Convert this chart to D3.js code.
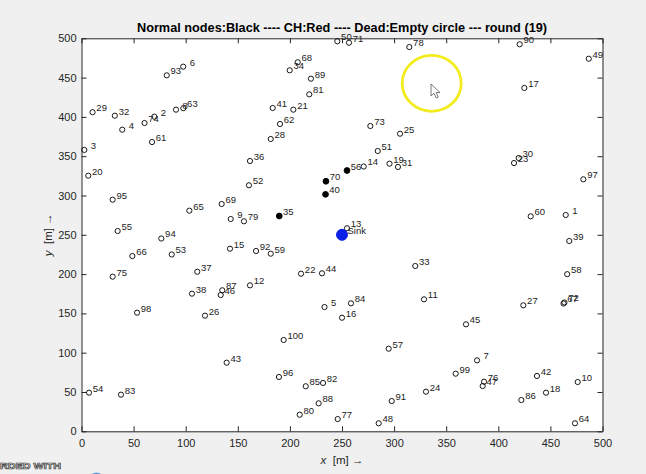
<!DOCTYPE html>
<html><head><meta charset="utf-8">
<script src="https://cdn.jsdelivr.net/npm/d3@7/dist/d3.min.js"></script>
<style>
html,body{margin:0;padding:0;background:#f0f0f0;}
svg{display:block;font-family:"Liberation Sans",Arial,Helvetica,sans-serif;}
</style></head>
<body>
<svg id="chart" width="646" height="474"></svg>
<script>
// ---- data ----
const nodeIds = [1,2,3,4,5,6,7,8,9,10,11,12,13,14,15,16,17,18,19,20,21,22,23,24,25,26,27,28,29,30,31,32,33,34,35,36,37,38,39,40,41,42,43,44,45,46,47,48,49,50,51,52,53,54,55,56,57,58,59,60,61,62,63,64,65,66,67,68,69,70,71,72,73,74,75,76,77,78,79,80,81,82,83,84,85,86,87,88,89,90,91,92,93,94,95,96,97,98,99,100];
const nodeX = [464.7,69.9,2.7,39.1,233.2,97.6,379.6,90.7,143.2,476.2,328.7,161.7,254.8,270.8,142.5,250,425,445.8,295.6,6.5,203.3,210.7,415.1,330.6,305.7,118.5,424,181.6,10.6,419.6,303.7,32,320.3,199.8,189.8,161.7,111.1,106,468.1,234.2,183.5,437.1,139.3,230.8,369,133.6,385,285.2,486.8,245.5,284.3,160.7,86.6,7.2,34.7,254.8,294.8,466.1,181.6,431.1,67.7,190.5,97.7,473.6,103.5,48.8,462.6,207.5,134.5,234.6,256.7,463.5,277.2,60.5,29.9,386.3,245.9,314.6,155.9,209.4,218.6,231.8,37.9,258.6,215.2,422.1,135.1,227.6,220.2,420.5,297.7,167.5,81.8,76.6,29.9,189.5,481.6,53.3,359.1,194];
const nodeY = [275.2,400.3,358,383.7,158.1,463.9,90.3,409.2,270.1,62.7,167.9,185.7,258.3,336.9,232.3,144.5,436.8,49.1,340.5,325.2,409.2,200.5,341.3,50.4,378.6,147.1,160.3,371.9,406,347.7,336.3,401.5,210.3,459.3,273.9,343.9,203,175.1,242.1,301.5,411.3,70.4,87.3,201,136.1,173.4,57.6,10.2,474,496.2,356.6,313,225,49.1,254.8,331.8,105.1,199.9,226,273.5,368,391,411.1,10.2,280.7,223,162.6,469.5,289.2,318.1,494.4,163.9,388.4,392.2,196.7,63.1,15.6,488.9,267.2,21.1,428.7,61.5,46.6,162.8,57.3,39.8,179.4,35.6,448.6,492.4,38.5,229.4,452.9,245.3,294.7,69.1,320.6,150.9,73.3,116.2];
const aliveIds = [35,40,56,70];          // normal nodes (black)
const sinkX = [250], sinkY = [250];
const xTicks = [0,50,100,150,200,250,300,350,400,450,500];
const yTicks = [0,50,100,150,200,250,300,350,400,450,500];
const titleText = "Normal nodes:Black ---- CH:Red ---- Dead:Empty circle --- round (19)";

// ---- layout ----
const svg = d3.select("#chart");
const L = 81.5, R = 602.5, T = 38.3, B = 431.3;
const x = d3.scaleLinear().domain([0,500]).range([L,R]);
const y = d3.scaleLinear().domain([0,500]).range([B,T]);
const axisColor = "#262626";

svg.append("rect").attr("width",646).attr("height",474).attr("fill","#f0f0f0");
svg.append("rect").attr("x",L).attr("y",T).attr("width",R-L).attr("height",B-T).attr("fill","#fff");

function styleAxis(g){
  g.selectAll("path,line").attr("stroke",axisColor).attr("stroke-width",1);
  g.selectAll("text").attr("fill",axisColor).attr("font-size",11)
   .attr("font-family","'Liberation Sans',Arial,sans-serif");
}
svg.append("g").attr("transform",`translate(0,${B})`)
  .call(d3.axisBottom(x).tickValues(xTicks).tickSizeInner(-5).tickSizeOuter(0).tickPadding(8))
  .call(styleAxis);
svg.append("g").attr("transform",`translate(${L},0)`)
  .call(d3.axisLeft(y).tickValues(yTicks).tickSizeInner(-5).tickSizeOuter(0).tickPadding(5))
  .call(styleAxis);
svg.append("g").attr("transform",`translate(0,${T})`)
  .call(d3.axisTop(x).tickValues(xTicks).tickFormat("").tickSizeInner(-5).tickSizeOuter(0))
  .call(styleAxis);
svg.append("g").attr("transform",`translate(${R},0)`)
  .call(d3.axisRight(y).tickValues(yTicks).tickFormat("").tickSizeInner(-5).tickSizeOuter(0))
  .call(styleAxis);

// ---- nodes ----
const nodes = nodeIds.map((id,i)=>({id, x:nodeX[i], y:nodeY[i], alive: aliveIds.includes(id)}));
const ng = svg.append("g");
ng.selectAll("circle.node").data(nodes).join("circle")
  .attr("class","node")
  .attr("cx",d=>x(d.x)).attr("cy",d=>y(d.y))
  .attr("r",d=>d.alive?2.9:2.6)
  .attr("fill",d=>d.alive?"#000":"none")
  .attr("stroke","#000").attr("stroke-width",0.9);
ng.selectAll("text.lbl").data(nodes).join("text")
  .attr("class","lbl")
  .attr("x",d=>x(d.x) + (d.id<10?6.5:3.8))
  .attr("y",d=>y(d.y) - 1)
  .attr("font-size",9.5).attr("fill","#222")
  .text(d=>d.id);

// sink
svg.selectAll("circle.sink").data(sinkX.map((v,i)=>({x:v,y:sinkY[i]}))).join("circle")
  .attr("class","sink").attr("cx",d=>x(d.x)).attr("cy",d=>y(d.y)).attr("r",5.5)
  .attr("fill","#0a1fe8").attr("stroke","#0a1fe8");
svg.append("text").attr("x",x(sinkX[0])+5.5).attr("y",y(sinkY[0])-1)
  .attr("font-size",9.5).attr("fill","#222").text("Sink");

// title
svg.append("text").attr("x",(L+R)/2).attr("y",31.5).attr("text-anchor","middle")
  .attr("font-size",12).attr("font-weight","bold").attr("fill","#000")
  .attr("textLength",410).attr("lengthAdjust","spacingAndGlyphs")
  .text(titleText);

// axis labels
const xl = svg.append("text").attr("x",(L+R)/2).attr("y",464).attr("text-anchor","middle")
  .attr("font-size",11.5).attr("fill",axisColor);
xl.append("tspan").attr("font-style","italic").text("x");
xl.append("tspan").text("\u00a0\u00a0[m] \u2192");
const yl = svg.append("text").attr("transform",`translate(51.5,${(T+B)/2}) rotate(-90)`)
  .attr("text-anchor","middle").attr("font-size",11.5).attr("fill",axisColor);
yl.append("tspan").attr("font-style","italic").text("y");
yl.append("tspan").text("\u00a0\u00a0[m] \u2192");

// screen-recording overlay: highlight ring + cursor
svg.append("ellipse").attr("cx",431.7).attr("cy",83.3).attr("rx",29.5).attr("ry",28)
  .attr("fill","none").attr("stroke","#f3ec1c").attr("stroke-width",2.8);
svg.append("path").attr("transform","translate(431,84)")
  .attr("d","M0,0 L0,12 L3,9.3 L5.2,14 L7.2,13.1 L5.1,8.5 L9,8.5 Z")
  .attr("fill","#fff").attr("stroke","#555").attr("stroke-width",0.8);

// watermark fragment
svg.append("text").attr("x",0).attr("y",468.5).attr("font-size",9).attr("font-weight","bold")
  .attr("fill","#fff").attr("stroke","#3a3a3a").attr("stroke-width",0.7)
  .attr("textLength",61).attr("lengthAdjust","spacingAndGlyphs").text("RDED WITH");
svg.append("circle").attr("cx",96.5).attr("cy",481).attr("r",8.5).attr("fill","#4b8ed8").attr("opacity",0.85);
</script>
</body></html>
